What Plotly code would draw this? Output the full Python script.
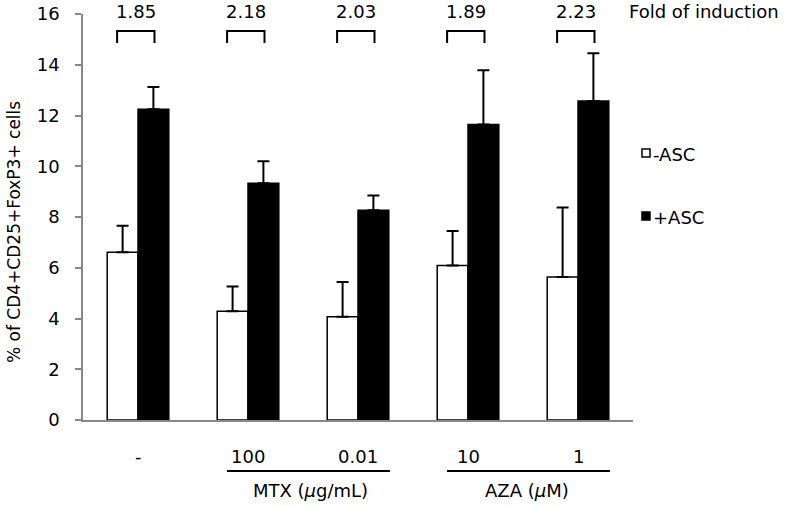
import plotly.graph_objects as go

# ---- data ----
groups = ["-", "100", "0.01", "10", "1"]
minus_asc = [6.61, 4.29, 4.07, 6.09, 5.64]
minus_asc_err = [1.05, 0.97, 1.37, 1.36, 2.73]
plus_asc = [12.25, 9.33, 8.27, 11.65, 12.57]
plus_asc_err = [0.87, 0.87, 0.58, 2.13, 1.88]
fold = ["1.85", "2.18", "2.03", "1.89", "2.23"]
group_labels = ["MTX (<i>μ</i>g/mL)", "AZA (<i>μ</i>M)"]

FONT = "DejaVu Sans"
x = list(range(len(groups)))

# plot area in pixels
L, R, T, B = 83, 633, 14, 420
W, H = 792, 506
def px(xp):
    return (xp - L) / (R - L)
def py(yp):
    return (B - yp) / (B - T)

fig = go.Figure()
fig.add_trace(go.Bar(
    x=x, y=minus_asc, name="-ASC",
    marker=dict(color="white", line=dict(color="black", width=1.5)),
    error_y=dict(type="data", symmetric=False, array=minus_asc_err,
                 arrayminus=[0] * len(x), color="black", thickness=2, width=6),
))
fig.add_trace(go.Bar(
    x=x, y=plus_asc, name="+ASC",
    marker=dict(color="black", line=dict(color="black", width=1.5)),
    error_y=dict(type="data", symmetric=False, array=plus_asc_err,
                 arrayminus=[0] * len(x), color="black", thickness=2, width=6),
))

shapes = []
annotations = []
# brackets & fold labels
for i, f in enumerate(fold):
    c = i - 0.02
    hw = 0.17
    y_top, y_bot = 15.33, 14.86
    shapes.append(dict(type="path", xref="x", yref="y",
                       path=f"M {c-hw},{y_bot} L {c-hw},{y_top} L {c+hw},{y_top} L {c+hw},{y_bot}",
                       line=dict(color="black", width=2)))
    annotations.append(dict(x=c, y=py(12), xref="x", yref="paper", text=f, showarrow=False,
                            font=dict(size=18, family=FONT, color="black"),
                            xanchor="center", yanchor="middle"))
annotations.append(dict(x=px(627), y=py(12), xref="paper", yref="paper",
                        text="Fold of induction", showarrow=False,
                        font=dict(size=18, family=FONT, color="black"),
                        xanchor="left", yanchor="middle"))

# category labels below
for i, g in enumerate(groups):
    annotations.append(dict(x=i, y=py(456), xref="x", yref="paper", text=g, showarrow=False,
                            font=dict(size=18, family=FONT, color="black"),
                            xanchor="center", yanchor="middle"))
# group underlines
for (x0, x1) in [(227, 390), (447, 610)]:
    shapes.append(dict(type="line", xref="paper", yref="paper",
                       x0=px(x0), x1=px(x1), y0=py(471), y1=py(471),
                       line=dict(color="black", width=2)))
annotations.append(dict(x=px(310), y=py(490), xref="paper", yref="paper", text=group_labels[0],
                        showarrow=False, font=dict(size=18, family=FONT, color="black"),
                        xanchor="center", yanchor="middle"))
annotations.append(dict(x=px(527), y=py(490), xref="paper", yref="paper", text=group_labels[1],
                        showarrow=False, font=dict(size=18, family=FONT, color="black"),
                        xanchor="center", yanchor="middle"))

# legend (manual)
for yc, fill, name in [(153, "white", "-ASC"), (216, "black", "+ASC")]:
    shapes.append(dict(type="rect", xref="paper", yref="paper",
                       x0=px(642), x1=px(650), y0=py(yc - 4), y1=py(yc + 4),
                       fillcolor=fill, line=dict(color="black", width=1.5)))
    annotations.append(dict(x=px(651), y=py(yc + 1), xref="paper", yref="paper", text=name,
                            showarrow=False, font=dict(size=18, family=FONT, color="black"),
                            xanchor="left", yanchor="middle"))

# y axis title
annotations.append(dict(x=px(14), y=py(232), xref="paper", yref="paper",
                        text="% of CD4+CD25+FoxP3+ cells", textangle=-90, showarrow=False,
                        font=dict(size=17, family=FONT, color="black"),
                        xanchor="center", yanchor="middle"))

fig.update_layout(
    width=W, height=H,
    margin=dict(l=L, r=W - R, t=T, b=H - B, pad=0, autoexpand=False),
    paper_bgcolor="white", plot_bgcolor="white",
    barmode="group", bargap=0.44, bargroupgap=0,
    showlegend=False,
    shapes=shapes, annotations=annotations,
    font=dict(family=FONT, size=18, color="black"),
)
fig.update_xaxes(range=[-0.5, 4.5], showticklabels=False, ticks="", showgrid=False,
                 zeroline=False, showline=True, linecolor="#888888", linewidth=1.5,
                 automargin=False)
fig.update_yaxes(range=[0, 16], dtick=2, tick0=0, showgrid=False, zeroline=False,
                 showline=True, linecolor="#888888", linewidth=1.5,
                 ticks="outside", ticklen=6, tickcolor="#888888", tickwidth=1.5,
                 ticklabelstandoff=12, automargin=False,
                 tickfont=dict(size=18, family=FONT, color="black"))

fig.write_html("out.html", config={"displayModeBar": False},
               post_script="document.body.style.margin='0px';")
